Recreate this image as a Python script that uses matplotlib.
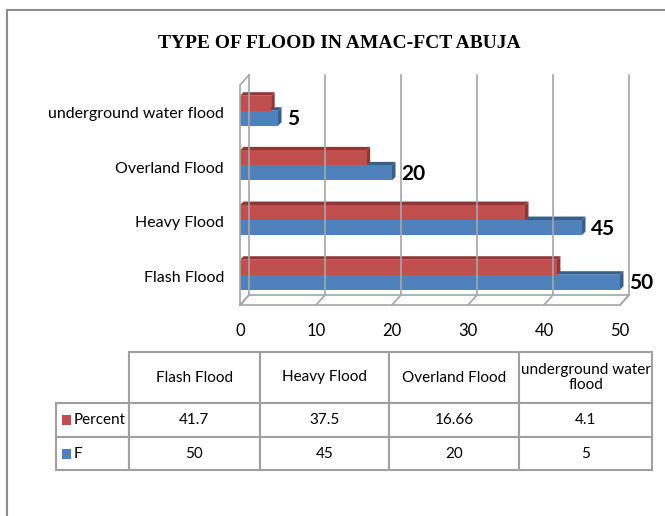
import matplotlib
matplotlib.use("Agg")
import matplotlib.pyplot as plt
from matplotlib.patches import Polygon, Rectangle

# data
categories = ["Flash Flood", "Heavy Flood", "Overland Flood", "underground water flood"]
table_headers = ["Flash Flood", "Heavy Flood", "Overland Flood", "underground water\nflood"]
percent = [41.7, 37.5, 16.66, 4.1]
freq = [50, 45, 20, 5]
percent_labels = ["41.7", "37.5", "16.66", "4.1"]
series_names = ["Percent", "F"]
xticks = [0, 10, 20, 30, 40, 50]

W, H = 665, 516
RED, RED_D = "#C0504D", "#8E3835"
BLUE, BLUE_D = "#4F81BD", "#385E8C"
GRID = "#A6A6A6"
NARROW = ["Lato", "DejaVu Sans"]


def fbox(x0, y0, x1, y1):
    # pixel box (top-left origin) -> figure fraction rect
    return [x0 / W, 1 - y1 / H, (x1 - x0) / W, (y1 - y0) / H]


fig = plt.figure(figsize=(W / 100, H / 100), dpi=100)

# outer chart frame (runs off the right and bottom edge)
fig.patches.append(Rectangle((7 / W, -0.05), 1.1, 1 - 10 / H + 0.05,
                             transform=fig.transFigure, fill=False,
                             edgecolor="#8C8C8C", lw=1.5))

fig.text(339 / W, 1 - 44 / H, "TYPE OF FLOOD IN AMAC-FCT ABUJA",
         family="Liberation Serif", weight="bold", fontsize=14,
         ha="center", va="center")

# plot area, pixel scales
px_x = 7.6          # px per x unit
px_y = 54.67        # px per category
y_bot = -27 / px_y
y_top = (278 - 75) / px_y
ax = fig.add_axes(fbox(240, 75, 630, 305))
ax.set_xlim(0, 390 / px_x)
ax.set_ylim(y_bot, y_top)
ax.axis("off")

dx, dy = 9 / px_x, 10 / px_y          # wall depth
bdx, bdy = 3.5 / px_x, 3.5 / px_y     # bar depth

# floor and walls
ax.plot([0, 50, 50 + dx, dx, 0], [y_bot, y_bot, y_bot + dy, y_bot + dy, y_bot],
        color=GRID, lw=1.2, clip_on=False)
ax.plot([0, 0, dx], [y_bot, y_top - dy, y_top], color=GRID, lw=1.2, clip_on=False)
for t in xticks:
    ax.plot([t, t + dx, t + dx], [y_bot, y_bot + dy, y_top], color=GRID, lw=1.2,
            clip_on=False)
    ax.text(t, y_bot - 26 / px_y, str(t), family=NARROW, fontsize=12,
            ha="center", va="center")


def bar3d(y0, h, val, front, dark):
    ax.add_patch(Polygon([(0, y0 + h), (val, y0 + h), (val + bdx, y0 + h + bdy),
                          (bdx, y0 + h + bdy)], closed=True, fc=dark, ec="none"))
    ax.add_patch(Polygon([(val, y0), (val + bdx, y0 + bdy), (val + bdx, y0 + h + bdy),
                          (val, y0 + h)], closed=True, fc=dark, ec="none"))
    ax.add_patch(Rectangle((0, y0), val, h, fc=front, ec="none"))


bh = 15 / px_y
for i, cat in enumerate(categories):
    c = i + 0.06
    bar3d(c - bh, bh, freq[i], BLUE, BLUE_D)
    bar3d(c, bh, percent[i], RED, RED_D)
    ax.text(freq[i] + 9 / px_x, c - bh / 2 - 1 / px_y, str(freq[i]),
            family=NARROW, weight="bold", fontsize=15, ha="left", va="center")
    ax.text(-16 / px_x, i, cat, family=NARROW, fontsize=11.5,
            ha="right", va="center", clip_on=False)

# data table
tax = fig.add_axes(fbox(56, 352, 652, 470))
tax.axis("off")
cell_text = [table_headers, percent_labels, [str(v) for v in freq]]
row_labels = ["", series_names[0], series_names[1]]
full = [[row_labels[r]] + cell_text[r] for r in range(3)]
col_w = [73, 131, 130, 130, 133]
tot_w = sum(col_w)
row_h = [51, 34, 33]
tot_h = sum(row_h)
tbl = tax.table(cellText=full, colWidths=[w / tot_w for w in col_w],
                cellLoc="center", bbox=[0, 0, 1, 1])
tbl.auto_set_font_size(False)
for (r, c), cell in tbl.get_celld().items():
    cell.set_height(row_h[r] / tot_h)
    cell.set_edgecolor("#A0A0A0")
    cell.set_linewidth(1.5)
    cell.get_text().set_fontfamily(NARROW)
    cell.get_text().set_fontsize(11)
    if c == 0:
        cell.get_text().set_ha("left")
        cell._loc = "left"
        cell.PAD = 0.24
    if r == 0 and c == 0:
        cell.visible_edges = ""
    if r == 0 and c == 4:
        cell.get_text().set_linespacing(1.15)

# legend keys in the table row labels
for r, col in [(1, RED), (2, BLUE)]:
    yc = 1 - (row_h[0] + sum(row_h[1:r]) + row_h[r] / 2) / tot_h
    tax.add_patch(Rectangle((6 / 596, yc - 5 / 118), 9 / 596, 10 / 118,
                            transform=tax.transAxes, fc=col, ec="none", zorder=5))

fig.savefig("out.png", dpi=100)
